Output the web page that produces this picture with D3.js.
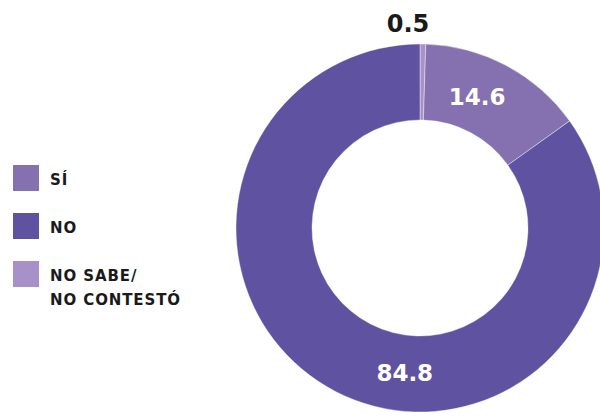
<!DOCTYPE html>
<html><head><meta charset="utf-8">
<script src="https://cdn.jsdelivr.net/npm/d3@7"></script>
<style>body{margin:0;background:#fff}svg{display:block}</style>
</head><body>
<svg id="c" width="600" height="416"></svg>
<script>
const categories = ["NO SABE/NO CONTESTÓ", "SÍ", "NO"];
const values = [0.5, 14.6, 84.8];
const legendOrder = ["SÍ", "NO", "NO SABE/NO CONTESTÓ"];
const legendLines = [["SÍ"], ["NO"], ["NO SABE/", "NO CONTESTÓ"]];
const colors = {"SÍ": "#8571b0", "NO": "#5f53a1", "NO SABE/NO CONTESTÓ": "#a890c8"};

const svg = d3.select("#c");
const font = "'DejaVu Sans', sans-serif";
const cx = 420, cy = 228, R = 184, r = 108;
const data = categories.map((c, i) => ({cat: c, value: values[i]}));
const pie = d3.pie().sort(null).value(d => d.value);
const arcs = pie(data);
const arc = d3.arc().innerRadius(r).outerRadius(R);
const g = svg.append("g").attr("transform", `translate(${cx},${cy})`);
g.selectAll("path").data(arcs).join("path")
  .attr("d", arc).attr("fill", d => colors[d.data.cat])
  .attr("stroke", "#fff").attr("stroke-width", 0.4);

// labels: angle (deg) and radius for each
const labelPos = {"NO SABE/NO CONTESTÓ": null, "SÍ": [23.5, 143], "NO": [186, 146]};
arcs.forEach(a => {
  const p = labelPos[a.data.cat];
  if (!p) {
    g.append("text").attr("x", -12).attr("y", 32 - cy)
      .attr("text-anchor", "middle").attr("font-family", font).attr("font-weight", "bold")
      .attr("font-size", 24).attr("fill", "#1a1a1a").text(a.data.value);
  } else {
    const ang = p[0] * Math.PI / 180;
    g.append("text").attr("x", Math.sin(ang) * p[1]).attr("y", -Math.cos(ang) * p[1])
      .attr("text-anchor", "middle").attr("dominant-baseline", "central")
      .attr("font-family", font).attr("font-weight", "bold")
      .attr("font-size", 23).attr("fill", "#fff").text(a.data.value);
  }
});

// legend
const ly = d3.scaleOrdinal().domain(legendOrder).range([165, 213, 261]);
const leg = svg.append("g");
legendOrder.forEach((c, i) => {
  leg.append("rect").attr("x", 13).attr("y", ly(c)).attr("width", 26).attr("height", 26)
    .attr("fill", colors[c]);
  legendLines[i].forEach((t, j) => {
    leg.append("text").attr("x", 50).attr("y", ly(c) + 20 + j * 24)
      .attr("font-family", font).attr("font-weight", "bold").attr("font-size", 15)
      .attr("letter-spacing", 0.9)
      .attr("fill", "#1a1a1a").text(t);
  });
});
</script>
</body></html>
